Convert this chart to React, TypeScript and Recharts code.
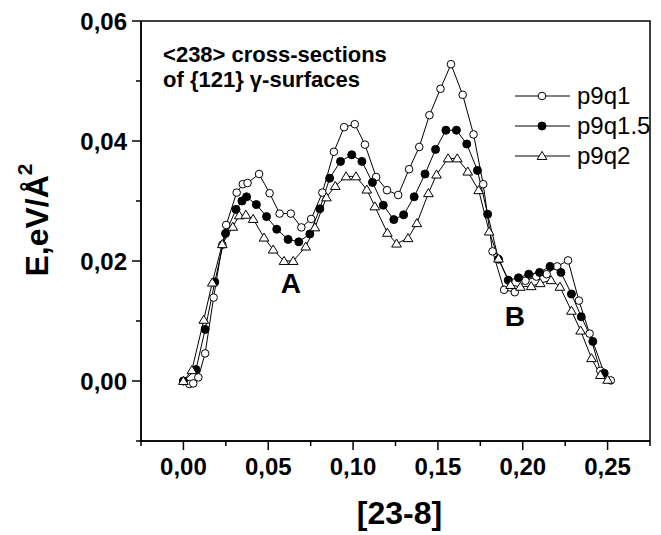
import React from 'react';
import { LineChart, Line, XAxis, YAxis, ReferenceArea, ReferenceDot, Legend } from 'recharts';

const p9q1X = [0, 0.0035, 0.0058, 0.0088, 0.0128, 0.0178, 0.0229, 0.0252, 0.0314, 0.035, 0.0378, 0.0446, 0.0508, 0.0567, 0.0633, 0.0695, 0.0753, 0.0819, 0.0887, 0.0947, 0.101, 0.107, 0.1136, 0.12, 0.1266, 0.133, 0.139, 0.145, 0.1515, 0.1577, 0.1646, 0.171, 0.1767, 0.1822, 0.189, 0.1953, 0.2016, 0.208, 0.2141, 0.2203, 0.2267, 0.2331, 0.2394, 0.2457, 0.2519];
const p9q1Y = [0, -0.0005, -0.0004, 0.0006, 0.0046, 0.0139, 0.0227, 0.026, 0.0314, 0.0328, 0.033, 0.0345, 0.0313, 0.0279, 0.0279, 0.0256, 0.027, 0.0314, 0.0382, 0.0423, 0.0428, 0.0394, 0.034, 0.0318, 0.031, 0.0353, 0.039, 0.0443, 0.0487, 0.0528, 0.0477, 0.0411, 0.0328, 0.0216, 0.0152, 0.0148, 0.0167, 0.0174, 0.0178, 0.0191, 0.0201, 0.0134, 0.0079, 0.0017, 0.0001];

const p9q15X = [0, 0.0074, 0.0128, 0.0185, 0.0248, 0.031, 0.0345, 0.0372, 0.043, 0.049, 0.055, 0.0617, 0.068, 0.0745, 0.0804, 0.0862, 0.0926, 0.0992, 0.1052, 0.1114, 0.1178, 0.124, 0.1298, 0.136, 0.1424, 0.1486, 0.1547, 0.1609, 0.167, 0.1733, 0.1793, 0.1857, 0.1915, 0.1975, 0.2035, 0.2099, 0.2161, 0.2225, 0.2287, 0.2345, 0.2413, 0.248];
const p9q15Y = [0, 0.0019, 0.0086, 0.0165, 0.0246, 0.0286, 0.030, 0.0307, 0.0294, 0.0274, 0.0253, 0.0236, 0.0232, 0.0245, 0.0287, 0.0338, 0.0366, 0.0377, 0.0366, 0.0331, 0.0293, 0.0269, 0.0277, 0.0307, 0.0345, 0.0386, 0.0418, 0.0418, 0.0395, 0.0351, 0.0278, 0.0203, 0.0168, 0.0172, 0.0178, 0.0181, 0.0191, 0.0181, 0.0145, 0.0107, 0.0066, 0.0013];

const p9q2X = [0, 0.005, 0.012, 0.017, 0.0229, 0.0291, 0.0329, 0.0368, 0.0411, 0.0475, 0.0529, 0.0593, 0.0647, 0.0721, 0.0775, 0.0843, 0.0895, 0.0959, 0.1017, 0.1081, 0.1128, 0.1202, 0.1256, 0.1324, 0.1376, 0.1444, 0.1492, 0.156, 0.1614, 0.1676, 0.174, 0.1802, 0.1857, 0.1928, 0.1986, 0.205, 0.2103, 0.2167, 0.2219, 0.2287, 0.2341, 0.2405, 0.2457, 0.25];
const p9q2Y = [0, 0.0018, 0.0102, 0.0164, 0.0228, 0.0257, 0.0276, 0.0277, 0.027, 0.0239, 0.0219, 0.02, 0.02, 0.0224, 0.0256, 0.0306, 0.0325, 0.0341, 0.0341, 0.0319, 0.0291, 0.0247, 0.0229, 0.0238, 0.0263, 0.0313, 0.0344, 0.0371, 0.0371, 0.0349, 0.0318, 0.0249, 0.0204, 0.016, 0.0157, 0.0158, 0.0163, 0.0168, 0.0157, 0.0117, 0.0084, 0.0038, 0.001, 0.0002];

const seriesNames = ['p9q1', 'p9q1.5', 'p9q2'];
const xMajorTicks = [0, 0.05, 0.1, 0.15, 0.2, 0.25];
const xMinorTicks = [-0.025, 0.025, 0.075, 0.125, 0.175, 0.225, 0.275];
const yMajorTicks = [0, 0.02, 0.04, 0.06];
const yMinorTicks = [-0.01, 0.01, 0.03, 0.05];
const xDomain = [-0.025, 0.275];
const yDomain = [-0.01, 0.06];
const annotationLines = ['<238> cross-sections', 'of {121} \u03b3-surfaces'];
const annotationPos = { x: -0.012, y: 0.0532 };
const pointLabels = [
  { text: 'A', x: 0.0634, y: 0.0163 },
  { text: 'B', x: 0.1954, y: 0.0108 },
];

const zip = (xs: number[], ys: number[]) => xs.map((x, i) => ({ x, y: ys[i] }));
const data1 = zip(p9q1X, p9q1Y);
const data15 = zip(p9q15X, p9q15Y);
const data2 = zip(p9q2X, p9q2Y);

const FONT = '"Liberation Sans", Arial, Helvetica, sans-serif';
const fmt = (v: number) => v.toFixed(2).replace('.', ',');
const isIn = (arr: number[], v: number) => arr.some((t) => Math.abs(t - v) < 1e-9);

const XTick = (props: any) => {
  const { x, y, payload } = props;
  const major = isIn(xMajorTicks, payload.value);
  return (
    <g>
      <line x1={x} x2={x} y1={y} y2={y + (major ? 9 : 5)} stroke="#000" strokeWidth={1.5} />
      {major && (
        <text x={x} y={y + 34} textAnchor="middle" fontSize={24} fontWeight="bold" fontFamily={FONT} fill="#000">
          {fmt(payload.value)}
        </text>
      )}
    </g>
  );
};

const YTick = (props: any) => {
  const { x, y, payload } = props;
  const major = isIn(yMajorTicks, payload.value);
  return (
    <g>
      <line x1={x} x2={x - (major ? 9 : 5)} y1={y} y2={y} stroke="#000" strokeWidth={1.5} />
      {major && (
        <text x={x - 14} y={y + 8.5} textAnchor="end" fontSize={24} fontWeight="bold" fontFamily={FONT} fill="#000">
          {fmt(payload.value)}
        </text>
      )}
    </g>
  );
};

const triPath = (cx: number, cy: number, s = 4.6) =>
  `M${cx},${cy - s} L${cx + s * 1.05},${cy + s * 0.75} L${cx - s * 1.05},${cy + s * 0.75} Z`;

const OpenCircle = (p: any) => <circle key={`o${p.index}`} cx={p.cx} cy={p.cy} r={3.8} fill="#fff" stroke="#000" strokeWidth={1} />;
const FilledCircle = (p: any) => <circle key={`f${p.index}`} cx={p.cx} cy={p.cy} r={4} fill="#000" stroke="#000" strokeWidth={1} />;
const Triangle = (p: any) => <path key={`t${p.index}`} d={triPath(p.cx, p.cy)} fill="#fff" stroke="#000" strokeWidth={1} />;

const markers = [
  (cx: number, cy: number) => <circle cx={cx} cy={cy} r={3.8} fill="#fff" stroke="#000" strokeWidth={1} />,
  (cx: number, cy: number) => <circle cx={cx} cy={cy} r={4} fill="#000" stroke="#000" strokeWidth={1} />,
  (cx: number, cy: number) => <path d={triPath(cx, cy)} fill="#fff" stroke="#000" strokeWidth={1} />,
];

const LegendContent = () => (
  <svg width={150} height={100} style={{ display: 'block', overflow: 'visible' }}>
    {seriesNames.map((name, i) => {
      const cy = 16 + i * 30;
      return (
        <g key={name}>
          <line x1={5} x2={60} y1={cy} y2={cy} stroke="#000" strokeWidth={1} />
          {markers[i](32, cy)}
          <text x={67} y={cy + 8} fontSize={24} fontFamily={FONT} fill="#000">{name}</text>
        </g>
      );
    })}
  </svg>
);

const YTitle = (props: any) => {
  const vb = props.viewBox || { x: 0, y: 21, width: 141, height: 420 };
  const cx = vb.x + 37;
  const cy = vb.y + vb.height / 2 - 11;
  return (
    <text transform={`rotate(-90 ${cx} ${cy})`} x={cx} y={cy} textAnchor="middle" dominantBaseline="central"
      fontSize={32} fontWeight="bold" fontFamily={FONT} fill="#000">
      E,eV/Å<tspan dy={-13} fontSize={21}>2</tspan>
    </text>
  );
};

const XTitle = (props: any) => {
  const vb = props.viewBox || { x: 141, y: 441, width: 509, height: 94 };
  return (
    <text x={vb.x + vb.width / 2 + 4} y={vb.y + 83} textAnchor="middle" fontSize={32} fontWeight="bold" fontFamily={FONT} fill="#000">
      [23-8]
    </text>
  );
};

const AnnotationLabel = (props: any) => {
  const vb = props.viewBox;
  const x = vb.x + (vb.width || 0) / 2;
  const y = vb.y + (vb.height || 0) / 2;
  return (
    <text x={x} y={y} fontSize={22} fontWeight="bold" fontFamily={FONT} fill="#000">
      {annotationLines.map((l, i) => (
        <tspan key={i} x={x} dy={i === 0 ? 0 : 25}>{l}</tspan>
      ))}
    </text>
  );
};

const makePointLabel = (text: string) => (props: any) => {
  const vb = props.viewBox;
  const x = vb.x + (vb.width || 0) / 2;
  const y = vb.y + (vb.height || 0) / 2;
  return (
    <text x={x} y={y + 10} textAnchor="middle" fontSize={28} fontWeight="bold" fontFamily={FONT} fill="#000">{text}</text>
  );
};

export default function App() {
  return (
    <div style={{ position: 'absolute', left: 0, top: 0, width: 661, height: 535, background: '#fff' }}>
      <LineChart width={661} height={535} margin={{ top: 21, right: 11, left: 0, bottom: 0 }}>
        <XAxis
          type="number"
          dataKey="x"
          domain={xDomain}
          allowDataOverflow
          ticks={[...xMinorTicks, ...xMajorTicks].sort((a, b) => a - b)}
          interval={0}
          tick={<XTick />}
          tickLine={false}
          tickSize={0}
          tickMargin={0}
          height={94}
          axisLine={{ stroke: '#000', strokeWidth: 1.5 }}
          label={{ content: <XTitle /> } as any}
        />
        <YAxis
          type="number"
          dataKey="y"
          domain={yDomain}
          allowDataOverflow
          ticks={[...yMinorTicks, ...yMajorTicks].sort((a, b) => a - b)}
          interval={0}
          tick={<YTick />}
          tickLine={false}
          tickSize={0}
          tickMargin={0}
          width={141}
          axisLine={{ stroke: '#000', strokeWidth: 1.5 }}
          label={{ content: <YTitle /> } as any}
        />
        <ReferenceArea x1={xDomain[0]} x2={xDomain[1]} y1={yDomain[0]} y2={yDomain[1]} fill="none" stroke="#000" strokeWidth={1.5} fillOpacity={0} />
        <ReferenceDot x={annotationPos.x} y={annotationPos.y} r={1} fill="none" stroke="none" label={{ content: <AnnotationLabel /> } as any} />
        {pointLabels.map((p) => (
          <ReferenceDot key={p.text} x={p.x} y={p.y} r={1} fill="none" stroke="none" label={{ content: makePointLabel(p.text) } as any} />
        ))}
        <Line data={data1} dataKey="y" name={seriesNames[0]} type="linear" stroke="#000" strokeWidth={1} dot={OpenCircle} isAnimationActive={false} />
        <Line data={data15} dataKey="y" name={seriesNames[1]} type="linear" stroke="#000" strokeWidth={1} dot={FilledCircle} isAnimationActive={false} />
        <Line data={data2} dataKey="y" name={seriesNames[2]} type="linear" stroke="#000" strokeWidth={1} dot={Triangle} isAnimationActive={false} />
        <Legend layout="vertical" align="center" verticalAlign="middle" content={<LegendContent />}
          wrapperStyle={{ left: 510, top: 80, width: 150, height: 100 }} />
      </LineChart>
    </div>
  );
}
